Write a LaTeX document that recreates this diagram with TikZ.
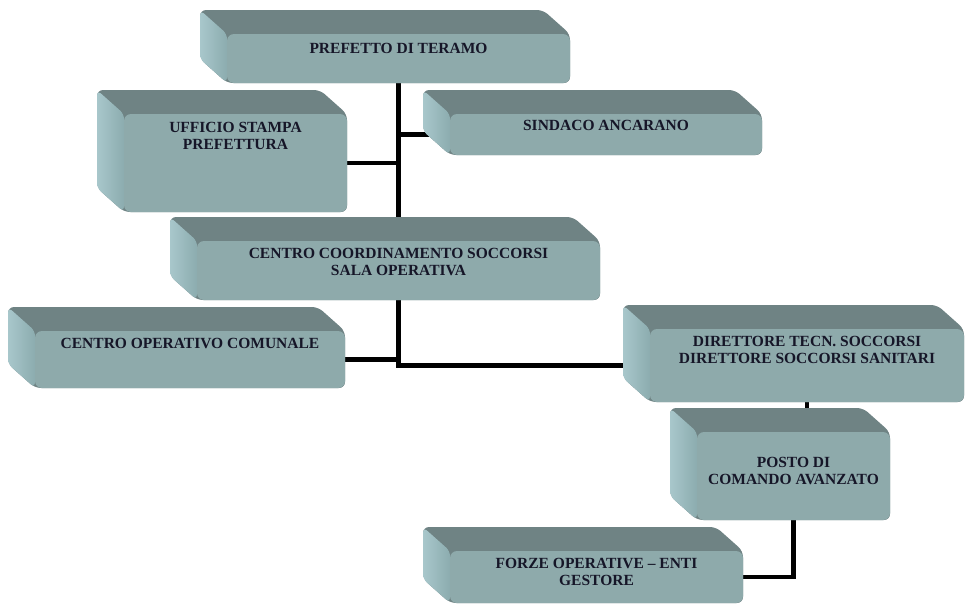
\documentclass[tikz,border=0pt]{standalone}
\usepackage{fontspec}
\setmainfont{Liberation Serif}
\usetikzlibrary{backgrounds}

\definecolor{topface}{RGB}{111,131,132}
\definecolor{sideface}{RGB}{168,199,203}
\definecolor{sidedark}{RGB}{140,172,175}
\definecolor{frontface}{RGB}{142,170,171}
\definecolor{inktext}{RGB}{22,22,40}

\tikzset{
  front/.style={draw=none, fill=frontface, rounded corners=7pt, inner sep=0pt, outer sep=0pt, anchor=north west},
  lbl/.style={font=\fontsize{15.5}{17}\selectfont\bfseries, text=inktext, align=center, inner sep=0pt},
  link/.style={line width=4.5pt, black}
}

% #1 name, (#2,#3) back top-left, (#4,#5) front bottom-right, #6 text drop, #7 text
\newcommand{\panel}[7]{%
  \fill[topface, rounded corners=6pt] (#2,#3) -- (#4-27,#3) -- (#4,#3+24) -- (#4,#5) -- (#2+27,#5) -- (#2,#5-24) -- cycle;
  \shade[left color=sideface, right color=sidedark, rounded corners=5pt] (#2,#3) -- (#2+27,#3+24) -- (#2+27,#5) -- (#2,#5-24) -- cycle;
  \node[front, minimum width={(#4-#2-27)*1pt}, minimum height={(#5-#3-24)*1pt}] (#1) at (#2+27,#3+24) {};
  \node[lbl] (#1-t) at ([yshift=-#6]#1.north) {#7};
}

\begin{document}
\begin{tikzpicture}[x=1pt, y=-1pt]
      \useasboundingbox (0,0) rectangle (966,605);
      \panel{pref}{200}{10}{570}{83}{14pt}{PREFETTO DI TERAMO}
      \panel{uff}{97}{90}{347}{212}{22pt}{UFFICIO STAMPA\\PREFETTURA}
      \panel{sind}{423}{90}{762}{155}{11pt}{SINDACO ANCARANO}
      \panel{ccs}{170}{217}{600}{300}{21pt}{CENTRO COORDINAMENTO SOCCORSI\\SALA OPERATIVA}
      \panel{coc}{8}{307}{345}{388}{12pt}{CENTRO OPERATIVO COMUNALE}
      \panel{dir}{623}{305}{964}{402}{21pt}{DIRETTORE TECN. SOCCORSI\\DIRETTORE SOCCORSI SANITARI}
      \panel{pca}{670}{408}{890}{520}{39pt}{POSTO DI\\COMANDO AVANZATO}
      \panel{forze}{423}{527}{743}{603}{21pt}{FORZE OPERATIVE -- ENTI\\GESTORE}
      \begin{pgfonlayer}{background}
        \draw[link] (pref.south) -- (ccs.south);
        \draw[link] (ccs.south) |- (dir.west);
        \draw[link] (uff.east) -- (uff.east -| pref.south);
        \draw[link] (sind.west) -- (sind.west -| pref.south);
        \draw[link] (coc.east) -- (coc.east -| ccs.south);
        \draw[link] (dir.south) -- (dir.south |- pca.north);
        \draw[link] (pca.south) |- (forze.east);
      \end{pgfonlayer}
\end{tikzpicture}
\end{document}
